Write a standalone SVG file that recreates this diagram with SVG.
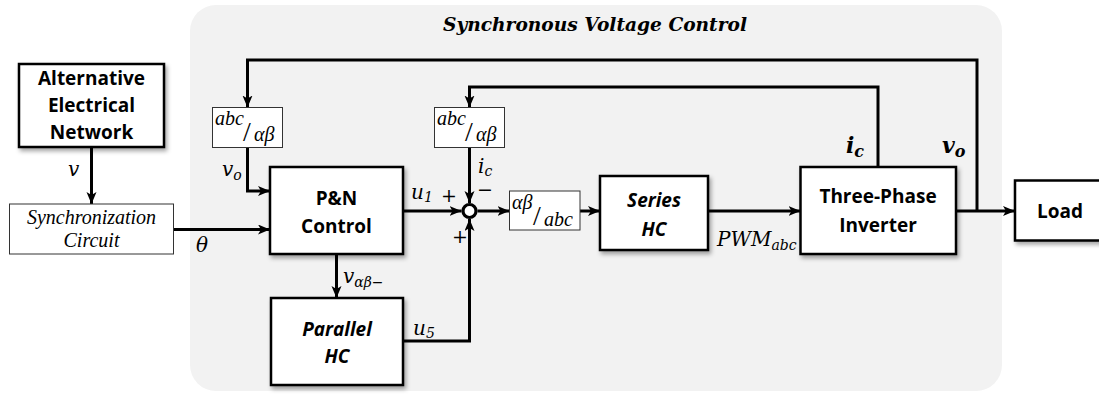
<svg xmlns="http://www.w3.org/2000/svg" width="1099" height="394" viewBox="0 0 1099 394">
<defs>
<marker id="arr" markerUnits="userSpaceOnUse" markerWidth="13" markerHeight="11" refX="12" refY="5" orient="auto">
<path d="M0,0 L12,5 L0,10 L3,5 z" fill="#000"/>
</marker>
<filter id="sh" x="-10%" y="-10%" width="130%" height="140%">
<feDropShadow dx="2" dy="3" stdDeviation="2" flood-color="#000" flood-opacity="0.35"/>
</filter>
<style>
.blk{fill:#fff;stroke:#000;stroke-width:2.5}
.thin{fill:#fff;stroke:#333;stroke-width:1}
.lbl{font-family:"Open Sans","Liberation Sans",sans-serif;font-weight:bold;font-size:19px;text-anchor:middle;fill:#000}
.lbi{font-family:"Open Sans","Liberation Sans",sans-serif;font-weight:bold;font-style:italic;font-size:19px;text-anchor:middle;fill:#000}
.m{font-family:"DejaVu Serif","Liberation Serif",serif;font-style:italic;font-size:20px;fill:#000}
.mb{font-family:"DejaVu Serif","Liberation Serif",serif;font-style:italic;font-weight:bold;font-size:22px;fill:#000}
.fr{font-family:"Liberation Serif","DejaVu Serif",serif;font-style:italic;font-size:20px;fill:#000}
.sl{font-family:"Liberation Serif","DejaVu Serif",serif;font-size:28px;fill:#000}
.pm{font-family:"DejaVu Serif","Liberation Serif",serif;font-size:19px;fill:#000}
.sc{font-family:"Liberation Serif","DejaVu Serif",serif;font-style:italic;font-size:20px;text-anchor:middle;fill:#000}
.ttl{font-family:"DejaVu Serif","Liberation Serif",serif;font-style:italic;font-weight:bold;font-size:18px;text-anchor:middle;fill:#000}
.c{fill:none;stroke:#000;stroke-width:3}
</style>
</defs>
<rect x="190" y="5" width="812" height="386" rx="26" fill="#f2f2f2"/>
<text class="ttl" x="595" y="31" textLength="304" lengthAdjust="spacingAndGlyphs">Synchronous Voltage Control</text>

<g id="connectors">
<path class="c" d="M91.5,147 V204" marker-end="url(#arr)"/>
<path class="c" d="M173.5,229.5 H270" marker-end="url(#arr)"/>
<path class="c" d="M977,211 V60 H247.5 V107.5" marker-end="url(#arr)"/>
<path class="c" d="M247.5,148 V191 H270" marker-end="url(#arr)"/>
<path class="c" d="M878,167 V87 H469.5 V107.5" marker-end="url(#arr)"/>
<path class="c" d="M469.5,148 V203" marker-end="url(#arr)"/>
<path class="c" d="M403,211 H461.5" marker-end="url(#arr)"/>
<path class="c" d="M403,341 H469.5 V219" marker-end="url(#arr)"/>
<path class="c" d="M336.5,254 V298" marker-end="url(#arr)"/>
<path class="c" d="M477.5,211 H509.5" marker-end="url(#arr)"/>
<path class="c" d="M580,211 H600" marker-end="url(#arr)"/>
<path class="c" d="M708,211 H800.5" marker-end="url(#arr)"/>
<path class="c" d="M956,211 H1015" marker-end="url(#arr)"/>
</g>

<g id="sum">
<circle cx="469.5" cy="211" r="6.5" fill="#fff" stroke="#000" stroke-width="3.2"/>
</g>

<g id="network">
<rect class="blk" x="19" y="64" width="145" height="83" filter="url(#sh)"/>
<text class="lbl" x="91.5" y="85">Alternative</text>
<text class="lbl" x="91.5" y="112">Electrical</text>
<text class="lbl" x="91.5" y="139">Network</text>
</g>

<g id="sync">
<rect class="thin" x="9.5" y="204" width="164" height="50"/>
<text class="sc" x="91.5" y="224">Synchronization</text>
<text class="sc" x="91.5" y="247">Circuit</text>
</g>

<g id="abc1">
<rect class="thin" x="212.5" y="107.5" width="70" height="40"/>
<text class="fr" x="215" y="125">abc</text>
<text class="sl" x="243" y="141">/</text>
<text class="fr" x="254" y="141">αβ</text>
</g>

<g id="abc2">
<rect class="thin" x="434.5" y="107.5" width="70" height="40"/>
<text class="fr" x="437" y="125">abc</text>
<text class="sl" x="465" y="141">/</text>
<text class="fr" x="476" y="141">αβ</text>
</g>

<g id="ab2abc">
<rect class="thin" x="509.5" y="191" width="70.5" height="39"/>
<text class="fr" x="512" y="209">αβ</text>
<text class="sl" x="533" y="225">/</text>
<text class="fr" x="544" y="226">abc</text>
</g>

<g id="pn">
<rect class="blk" x="270" y="167" width="133" height="87" filter="url(#sh)"/>
<text class="lbl" x="336.5" y="205">P&amp;N</text>
<text class="lbl" x="336.5" y="233">Control</text>
</g>

<g id="parallel">
<rect class="blk" x="271" y="298" width="132" height="87" filter="url(#sh)"/>
<text class="lbi" x="337" y="336">Parallel</text>
<text class="lbi" x="337" y="363">HC</text>
</g>

<g id="series">
<rect class="blk" x="600" y="176" width="108" height="74" filter="url(#sh)"/>
<text class="lbi" x="654" y="207">Series</text>
<text class="lbi" x="654" y="236">HC</text>
</g>

<g id="inverter">
<rect class="blk" x="800.5" y="167" width="155.5" height="87" filter="url(#sh)"/>
<text class="lbl" x="878" y="203">Three-Phase</text>
<text class="lbl" x="878" y="232">Inverter</text>
</g>

<g id="load">
<rect class="blk" x="1015" y="180.5" width="90" height="60" filter="url(#sh)"/>
<text class="lbl" x="1060" y="218">Load</text>
</g>

<g id="labels">
<text class="m" x="68" y="176">v</text>
<text class="m" x="222" y="176">v<tspan font-size="14" dy="4">o</tspan></text>
<text class="m" x="196" y="252">θ</text>
<text class="m" x="411" y="199">u<tspan font-size="14" dy="3">1</tspan></text>
<text class="pm" x="441" y="202">+</text>
<text class="pm" x="452" y="243">+</text>
<text class="m" x="478" y="173">i<tspan font-size="14" dy="3">c</tspan></text>
<text class="pm" x="477" y="196">−</text>
<text class="m" x="343" y="283">v<tspan font-size="14" dy="4">αβ−</tspan></text>
<text class="m" x="413" y="335">u<tspan font-size="14" dy="3">5</tspan></text>
<text class="m" x="717" y="246">PWM<tspan font-size="14" dy="4">abc</tspan></text>
<text class="mb" x="846" y="153">i<tspan font-size="16" dy="4">c</tspan></text>
<text class="mb" x="942" y="153">v<tspan font-size="16" dy="4">o</tspan></text>
</g>
</svg>
